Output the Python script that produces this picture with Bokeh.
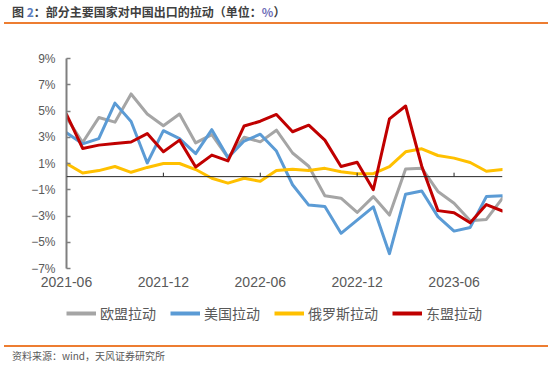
from bokeh.plotting import figure
from bokeh.models import (FixedTicker, Legend, LegendItem, Span, Range1d, Div)
from bokeh.layouts import column
from bokeh.embed import file_html
from bokeh.resources import INLINE

months = ["2021-06", "2021-07", "2021-08", "2021-09", "2021-10", "2021-11",
          "2021-12", "2022-01", "2022-02", "2022-03", "2022-04", "2022-05",
          "2022-06", "2022-07", "2022-08", "2022-09", "2022-10", "2022-11",
          "2022-12", "2023-01", "2023-02", "2023-03", "2023-04", "2023-05",
          "2023-06", "2023-07", "2023-08", "2023-09"]

eu = [4.5, 2.6, 4.5, 4.15, 6.3, 4.77, 3.87, 4.77, 2.57, 3.2, 1.45, 3.0,
      2.65, 3.54, 1.8, 0.79, -1.45, -1.64, -2.73, -1.52, -2.93, 0.59, 0.64,
      -1.13, -2.03, -3.36, -3.26, -1.64]
us = [3.35, 2.5, 2.9, 5.6, 4.2, 1.04, 3.5, 2.9, 1.75, 3.58, 1.45, 2.71,
      3.23, 1.95, -0.62, -2.17, -2.27, -4.32, -3.31, -2.3, -5.87, -1.34,
      -1.1, -3.05, -4.15, -3.87, -1.52, -1.46]
russia = [1.0, 0.27, 0.46, 0.77, 0.33, 0.7, 1.0, 1.0, 0.54, -0.12, -0.5,
          -0.12, -0.36, 0.46, 0.57, 0.47, 0.63, 0.37, 0.22, 0.22, 0.76, 1.89,
          2.12, 1.61, 1.41, 1.08, 0.41, 0.54]
asean = [4.75, 2.15, 2.4, 2.52, 2.64, 3.28, 1.9, 2.78, 0.73, 1.64, 1.2, 3.86,
         4.22, 4.74, 3.42, 3.92, 2.78, 0.77, 1.09, -1.0, 4.4, 5.38, 0.79,
         -2.59, -2.75, -3.52, -2.13, -2.62]

series_names = ["欧盟拉动", "美国拉动", "俄罗斯拉动", "东盟拉动"]
series_colors = ["#A5A5A5", "#5B9BD5", "#FFC000", "#C00000"]

x_tick_idx = [0, 6, 12, 18, 24]
x_tick_labels = ["2021-06", "2021-12", "2022-06", "2022-12", "2023-06"]
y_ticks = [-7, -5, -3, -1, 1, 3, 5, 7, 9]
y_tick_labels = ["−7%", "−5%", "−3%", "−1%", "1%", "3%", "5%", "7%", "9%"]

title_html = ('图 <span style="color:#5B7DC0">2</span>：部分主要国家对中国出口的拉动'
              '（单位：<span style="color:#6F6FB8">%</span>）')
source_text = "资料来源：wind，天风证券研究所"

x = list(range(len(months)))
all_series = [eu, us, russia, asean]

p = figure(width=548, height=268,
           min_border_left=66, min_border_right=46,
           min_border_top=32, min_border_bottom=26,
           x_range=Range1d(0, len(months) - 1), y_range=Range1d(-7, 9),
           output_backend="svg", toolbar_location=None, margin=0)
p.outline_line_color = None
p.grid.visible = False
p.background_fill_color = "white"
p.border_fill_color = "white"

for vals, col in zip(all_series, series_colors):
    p.line(x, vals, line_color=col, line_width=3,
           line_join="round", line_cap="round")

# zero line with upward ticks
p.add_layout(Span(location=0, dimension="width", line_color="#262626",
                  line_width=1))
inner_ticks = x_tick_idx[1:]
p.segment(x0=inner_ticks, y0=[0] * len(inner_ticks), x1=inner_ticks,
          y1=[0.3] * len(inner_ticks), line_color="#262626", line_width=1)

# y axis
ya = p.yaxis[0]
ya.ticker = FixedTicker(ticks=y_ticks)
ya.major_label_overrides = dict(zip(y_ticks, y_tick_labels))
ya.axis_line_color = "#7F7F7F"
ya.axis_line_width = 2
ya.major_tick_in = 4
ya.major_tick_out = 0
ya.major_tick_line_color = "#7F7F7F"
ya.major_tick_line_width = 1.5
ya.minor_tick_line_color = None
ya.major_label_standoff = 11
ya.major_label_text_font = "Liberation Sans"
ya.major_label_text_font_size = "12px"
ya.major_label_text_color = "#595959"

# x axis (labels only at bottom)
xa = p.xaxis[0]
xa.ticker = FixedTicker(ticks=x_tick_idx)
xa.major_label_overrides = dict(zip(x_tick_idx, x_tick_labels))
xa.axis_line_color = None
xa.major_tick_line_color = None
xa.minor_tick_line_color = None
xa.major_tick_out = 0
xa.major_tick_in = 0
xa.major_label_standoff = 8
xa.major_label_text_font = "Liberation Sans"
xa.major_label_text_font_size = "14px"
xa.major_label_text_color = "#595959"

# legend strip: a small figure whose (out-of-view) series lines serve as keys
lf = figure(width=548, height=51, min_border=0,
            x_range=Range1d(0, len(months) - 1), y_range=Range1d(50, 51),
            x_axis_type=None, y_axis_type=None,
            output_backend="svg", toolbar_location=None, margin=0)
lf.outline_line_color = None
lf.grid.visible = False
keys = [lf.line(x, vals, line_color=c, line_width=4)
        for vals, c in zip(all_series, series_colors)]
legend = Legend(items=[LegendItem(label=n, renderers=[k])
                       for n, k in zip(series_names, keys)],
                orientation="horizontal", location=(0, 22),
                glyph_width=30, glyph_height=16, label_height=20,
                label_standoff=4, spacing=14, padding=0, margin=0,
                border_line_color=None, background_fill_alpha=0,
                label_text_font="Noto Sans CJK SC",
                label_text_font_size="14px", label_text_color="#595959")
lf.add_layout(legend)

header = Div(text=('<div style="margin-left:4px;width:544px;height:24px;'
                   'line-height:24px;border-bottom:2px solid #ED7D31;'
                   'padding-left:8px;white-space:nowrap;'
                   'font-family:Noto Sans CJK SC;font-size:12px;'
                   'font-weight:bold;color:#404040;">' + title_html + '</div>'),
             width=556, height=26, margin=0)
footer = Div(text=('<div style="margin-left:4px;width:544px;height:17px;'
                   'line-height:17px;border-top:2px solid #ED7D31;'
                   'padding-left:8px;white-space:nowrap;'
                   'font-family:Noto Sans CJK SC;'
                   'font-size:10px;color:#595959;">' + source_text + '</div>'),
             width=556, height=19, margin=0)

layout = column(header, p, lf, footer, spacing=0, margin=0)

open("out.html", "w").write(file_html(layout, INLINE))
